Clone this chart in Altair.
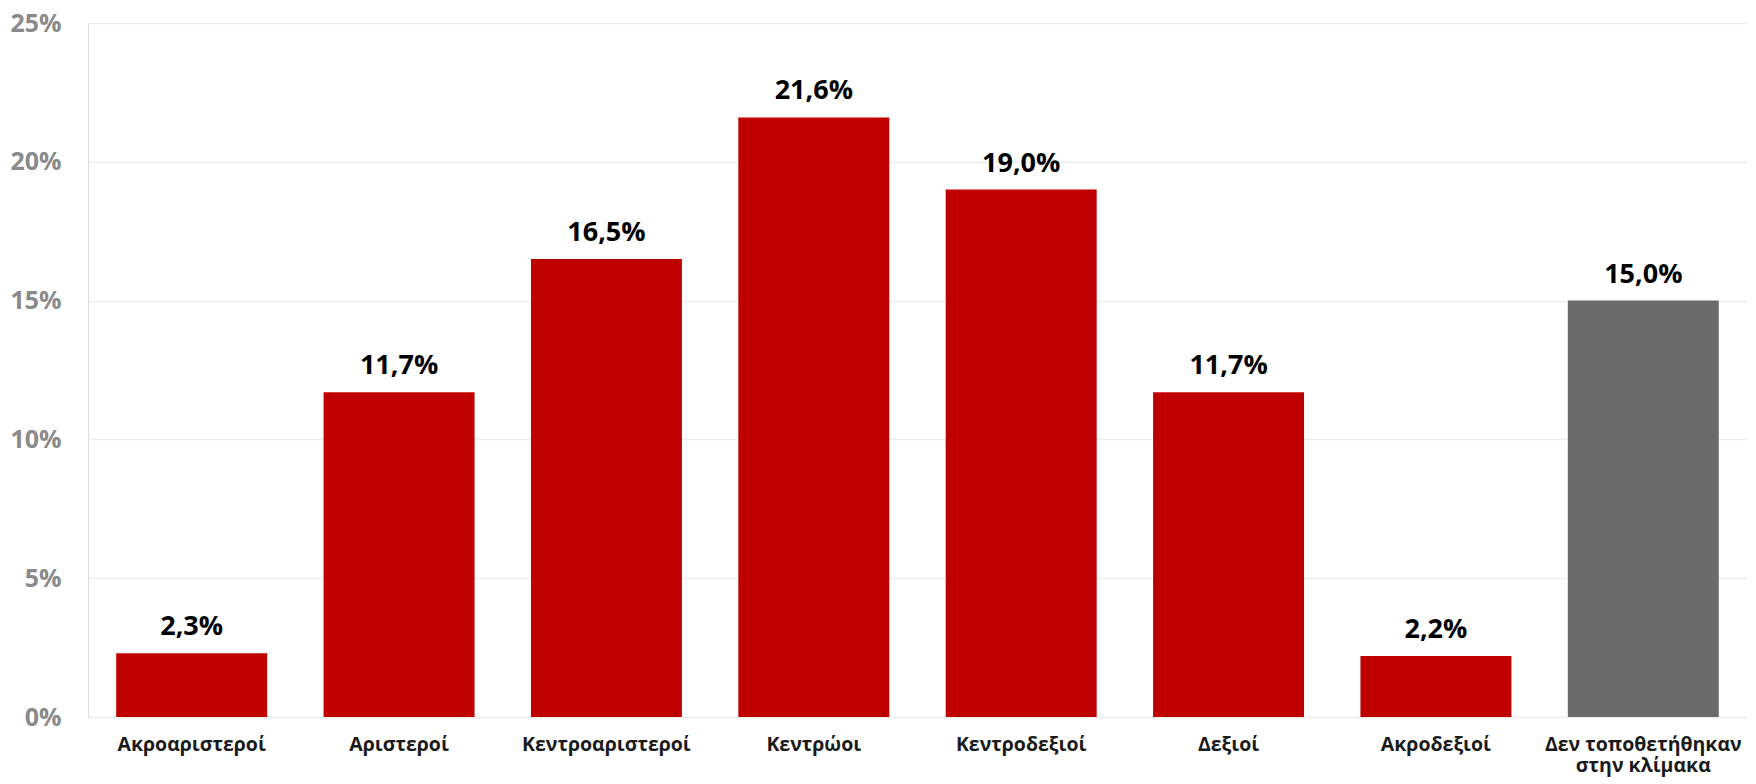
import altair as alt
import pandas as pd

categories = [
    "Ακροαριστεροί",
    "Αριστεροί",
    "Κεντροαριστεροί",
    "Κεντρώοι",
    "Κεντροδεξιοί",
    "Δεξιοί",
    "Ακροδεξιοί",
    "Δεν τοποθετήθηκαν στην κλίμακα",
]
values = [2.3, 11.7, 16.5, 21.6, 19.0, 11.7, 2.2, 15.0]
groups = ["scale", "scale", "scale", "scale", "scale", "scale", "scale", "none"]
y_ticks = [0, 5, 10, 15, 20, 25]

df = pd.DataFrame({
    "cat": categories,
    "val": values,
    "grp": groups,
    "lbl": [f"{v:.1f}".replace(".", ",") + "%" for v in values],
})

FONT = "Open Sans"

x = alt.X(
    "cat:N",
    sort=None,
    title=None,
    scale=alt.Scale(paddingInner=0.272, paddingOuter=0.136),
    axis=alt.Axis(
        labelAngle=0,
        labelFont=FONT,
        labelFontWeight="bold",
        labelFontSize=19.5,
        labelColor="#1a1a1a",
        labelBaseline="alphabetic",
        labelPadding=33,
        labelLineHeight=21,
        labelLimit=400,
        labelExpr="datum.label == 'Δεν τοποθετήθηκαν στην κλίμακα' ? ['Δεν τοποθετήθηκαν', 'στην κλίμακα'] : datum.label",
        ticks=False,
        tickSize=0,
        domain=False,
        grid=False,
    ),
)

y = alt.Y(
    "val:Q",
    title=None,
    scale=alt.Scale(domain=[0, 25], nice=False),
    axis=alt.Axis(
        values=y_ticks,
        labelExpr="datum.value + '%'",
        labelFont=FONT,
        labelFontWeight="bold",
        labelFontSize=25,
        labelColor="#8a8a8a",
        labelPadding=27,
        ticks=False,
        tickSize=0,
        domain=False,
        grid=True,
        gridColor="#ededed",
        gridWidth=1.5,
    ),
)

bars = alt.Chart(df).mark_bar().encode(
    x=x,
    y=y,
    color=alt.Color(
        "grp:N",
        scale=alt.Scale(domain=["scale", "none"], range=["#C00000", "#6B6B6B"]),
        legend=None,
    ),
)

text = alt.Chart(df).mark_text(
    baseline="alphabetic",
    dy=-18,
    font=FONT,
    fontWeight="bold",
    fontSize=27,
    color="#000000",
).encode(
    x=alt.X("cat:N", sort=None),
    y=alt.Y("val:Q"),
    text="lbl:N",
)

chart = (
    alt.layer(bars, text)
    .properties(
        width=1659,
        height=694,
        autosize=alt.AutoSizeParams(type="none"),
        padding={"left": 80, "top": 15, "right": 0, "bottom": 65},
    )
    .configure_view(stroke=None)
    .configure(background="#ffffff")
)

chart.save("out.html", embed_options={"renderer": "svg", "actions": False})
